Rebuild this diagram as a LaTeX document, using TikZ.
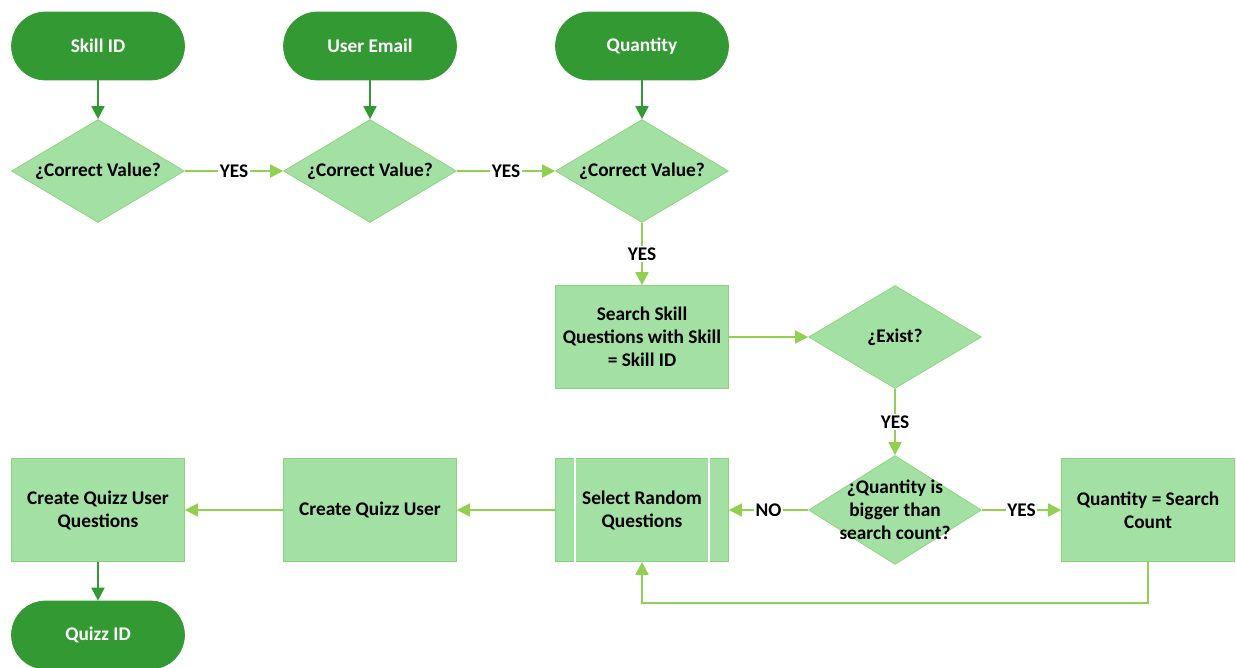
\documentclass[tikz,border=0pt]{standalone}
\usepackage{fontspec}
\setmainfont{Carlito}
\usetikzlibrary{shapes.geometric,arrows.meta}

\definecolor{darkGreen}{HTML}{339933}
\definecolor{paleGreen}{HTML}{A3E0A3}
\definecolor{lineGreen}{HTML}{92D050}
\definecolor{edgeGreen}{HTML}{8CD47A}

\tikzset{
    boxfont/.style={font=\bfseries\fontsize{11}{13}\selectfont},
    terminal/.style={boxfont, draw=darkGreen, fill=darkGreen, text=white, rounded corners=6.8mm, minimum width=3.46cm, minimum height=1.36cm},
    decision/.style={boxfont, diamond, aspect=1.68, draw=edgeGreen, fill=paleGreen, minimum width=3.46cm, minimum height=2.06cm, inner sep=0pt, align=center},
    process/.style={boxfont, draw=edgeGreen, fill=paleGreen, minimum width=3.46cm, minimum height=2.06cm, align=center},
    flow/.style={draw=lineGreen, line width=1pt, -{Triangle[length=2.6mm,width=2.6mm]}},
    startflow/.style={draw=darkGreen, line width=1pt, -{Triangle[length=2.6mm,width=2.6mm]}},
    answer/.style={boxfont, fill=white, inner sep=1pt}
}

\begin{document}
\begin{tikzpicture}[x=0.02cm, y=-0.02cm]
            \useasboundingbox (0,0) rectangle (1236,667);

            \node[terminal] (skill) at (98,46) {Skill ID};

            \node[terminal] (email) at (370,46) {User Email};

            \node[terminal] (quantity) at (642,46) {Quantity};

            \node[decision] (checkskill) at (98,171) {¿Correct Value?};

            \node[decision] (checkemail) at (370,171) {¿Correct Value?};

            \node[decision] (checkqty) at (642,171) {¿Correct Value?};

            \node[process] (search) at (642,337) {Search Skill\\Questions with Skill\\= Skill ID};

            \node[decision] (exist) at (895,337) {¿Exist?};

            \node[decision, minimum height=2.18cm, label={[boxfont, align=center]center:{¿Quantity is\\bigger than\\search count?}}] (bigger) at (895,510) {};

            \node[process] (setqty) at (1148,510) {Quantity = Search\\Count};

            \node[process] (select) at (642,510) {Select Random\\Questions};

            \draw[white, line width=1pt] ([xshift=0.4cm]select.north west) -- ([xshift=0.4cm]select.south west);

            \draw[white, line width=1pt] ([xshift=-0.4cm]select.north east) -- ([xshift=-0.4cm]select.south east);

            \node[process] (user) at (370,510) {Create Quizz User};

            \node[process] (userquestions) at (98,510) {Create Quizz User\\Questions};

            \node[terminal] (quizz) at (98,635) {Quizz ID};

            \draw[startflow] (skill) -- (checkskill);

            \draw[startflow] (email) -- (checkemail);

            \draw[startflow] (quantity) -- (checkqty);

            \draw[flow] (checkskill) -- node[answer] {YES} (checkemail);

            \draw[flow] (checkemail) -- node[answer] {YES} (checkqty);

            \draw[flow] (checkqty) -- node[answer] {YES} (search);

            \draw[flow] (search) -- (exist);

            \draw[flow] (exist) -- node[answer] {YES} (bigger);

            \draw[flow] (bigger) -- node[answer] {NO} (select);

            \draw[flow] (bigger) -- node[answer] {YES} (setqty);

            \draw[flow] (setqty.south) -- ++(0,41) -| (select.south);

            \draw[flow] (select) -- (user);

            \draw[flow] (user) -- (userquestions);

            \draw[startflow] (userquestions) -- (quizz);
\end{tikzpicture}
\end{document}
